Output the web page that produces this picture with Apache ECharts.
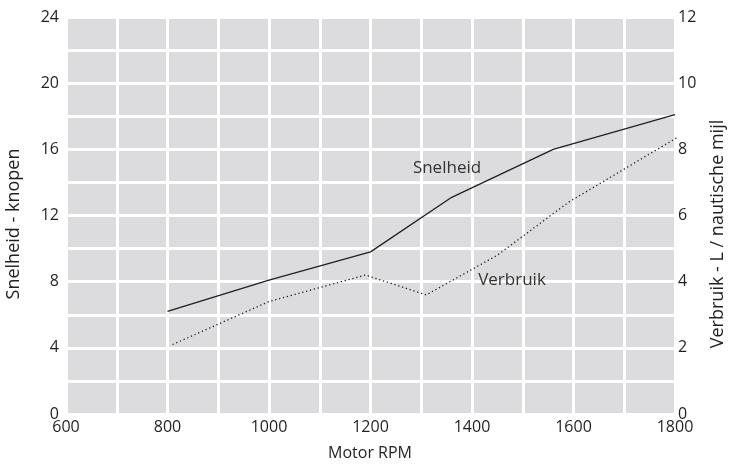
<!DOCTYPE html>
<html>
<head>
<meta charset="utf-8">
<script src="https://cdn.jsdelivr.net/npm/echarts@6/dist/echarts.min.js"></script>
<style>html,body{margin:0;padding:0;background:#fff}#c{width:730px;height:464px}</style>
</head>
<body>
<div id="c"></div>
<script>
// Data
const speedRpm = [800, 1000, 1200, 1360, 1560, 1800];
const speedKnots = [6.2, 8.1, 9.8, 13.1, 16.0, 18.1];
const fuelRpm = [810, 1000, 1190, 1310, 1450, 1590, 1820];
const fuelLpm = [2.1, 3.4, 4.2, 3.6, 4.8, 6.4, 8.5];
const xTicks = [600, 800, 1000, 1200, 1400, 1600, 1800];
const leftTicks = [0, 4, 8, 12, 16, 20, 24];
const rightTicks = [0, 2, 4, 6, 8, 10, 12];
const speedName = 'Snelheid';
const fuelName = 'Verbruik';

const FONT = '"Open Sans", sans-serif';
const TXT = '#231f20';
const chart = echarts.init(document.getElementById('c'));
const zip = (a, b) => a.map((v, i) => [v, b[i]]);

chart.setOption({
  backgroundColor: '#ffffff',
  animation: false,
  grid: { left: 66, right: 55, top: 17, bottom: 50, show: true, backgroundColor: '#dcdcde', borderWidth: 0 },
  xAxis: {
    type: 'value', min: 600, max: 1800, interval: 100,
    axisLine: { show: false }, axisTick: { show: false },
    axisLabel: { margin: 5, fontFamily: FONT, fontSize: 16, color: TXT,
      formatter: v => xTicks.includes(v) ? String(v) : '' },
    splitLine: { show: true, lineStyle: { color: '#ffffff', width: 3 } }
  },
  yAxis: [
    {
      type: 'value', min: 0, max: 24, interval: 2, position: 'left',
      axisLine: { show: false }, axisTick: { show: false },
      axisLabel: { margin: 7, fontFamily: FONT, fontSize: 16, color: TXT,
        formatter: v => leftTicks.includes(v) ? String(v) : '' },
      splitLine: { show: true, lineStyle: { color: '#ffffff', width: 3 } }
    },
    {
      type: 'value', min: 0, max: 12, interval: 1, position: 'right',
      axisLine: { show: false }, axisTick: { show: false },
      axisLabel: { margin: 3, fontFamily: FONT, fontSize: 16, color: TXT,
        formatter: v => rightTicks.includes(v) ? String(v) : '' },
      splitLine: { show: false }
    }
  ],
  graphic: [
    { type: 'text', x: 370, y: 453, z: 100,
      style: { text: 'Motor RPM', font: '16px ' + FONT, fill: TXT, align: 'center', verticalAlign: 'middle' } },
    { type: 'text', x: 14, y: 224, rotation: Math.PI / 2, z: 100,
      style: { text: 'Snelheid - knopen', font: '18px ' + FONT, fill: TXT, align: 'center', verticalAlign: 'middle' } },
    { type: 'text', x: 718, y: 234, rotation: Math.PI / 2, z: 100,
      style: { text: 'Verbruik - L / nautische mijl', font: '18px ' + FONT, fill: TXT, align: 'center', verticalAlign: 'middle' } },
    { type: 'text', x: 447, y: 168, z: 100,
      style: { text: speedName, font: '17px ' + FONT, fill: '#333', align: 'center', verticalAlign: 'middle' } },
    { type: 'text', x: 512, y: 280, z: 100,
      style: { text: fuelName, font: '17px ' + FONT, fill: '#333', align: 'center', verticalAlign: 'middle' } }
  ],
  series: [
    { name: speedName, type: 'line', yAxisIndex: 0, data: zip(speedRpm, speedKnots),
      symbol: 'none', lineStyle: { color: '#231f20', width: 1.3 }, clip: false },
    { name: fuelName, type: 'line', yAxisIndex: 1, data: zip(fuelRpm, fuelLpm),
      symbol: 'none', lineStyle: { color: '#231f20', width: 1.3, type: [1.3, 2.7] }, clip: false }
  ]
});
</script>
</body>
</html>
